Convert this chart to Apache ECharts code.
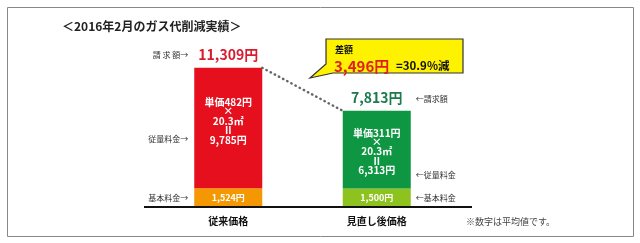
<!DOCTYPE html>
<html><head><meta charset="utf-8">
<script src="https://cdn.jsdelivr.net/npm/echarts@6/dist/echarts.min.js"></script>
<style>html,body{margin:0;padding:0;background:#fff}#c{width:640px;height:243px}</style>
</head><body><div id="c"></div>
<script>
const categories = ['従来価格', '見直し後価格'];
const baseFee = [1524, 1500];
const usageFee = [9785, 6313];
const totalBill = [11309, 7813];
const unitPrice = [482, 311];
const volume = [20.3, 20.3];
const diffAmount = 3496;
const diffRate = 30.9;
const titleText = '＜2016年2月のガス代削減実績＞';
const noteText = '※数字は平均値です。';

const FONT = '"Noto Sans CJK JP", sans-serif';
const fmt = v => String(v).replace(/\B(?=(\d{3})+(?!\d))/g, ',');
const baseColors = ['#f39800', '#8dc21f'];
const usageColors = ['#e60f1e', '#0e9642'];
const totalColors = ['#d81c2e', '#1d7a4c'];
const usageOffset = [[0, -7], [0, 2]];
const BW = 68;

const chart = echarts.init(document.getElementById('c'), null, {renderer: 'canvas'});
chart.setOption({
  animation: false,
  grid: {left: 154, top: 10, width: 297, height: 197},
  xAxis: {type: 'category', data: categories, axisLine: {show: false}, axisTick: {show: false},
    axisLabel: {margin: 9, fontSize: 10, fontWeight: 'bold', color: '#111', fontFamily: FONT}},
  yAxis: {type: 'value', min: 0, max: 16000, show: false, splitLine: {show: false}},
  series: [
    {type: 'bar', stack: 'a', barWidth: BW, barGap: '-100%',
      data: baseFee.map((v, i) => ({value: v, itemStyle: {color: baseColors[i]}})),
      label: {show: true, position: 'inside', color: '#fff', fontSize: 9, fontWeight: 'bold', fontFamily: FONT,
        formatter: p => fmt(p.value) + '円'}},
    {type: 'bar', stack: 'a', barWidth: BW, barGap: '-100%',
      data: usageFee.map((v, i) => ({value: v, itemStyle: {color: usageColors[i]}, label: {offset: usageOffset[i]}})),
      label: {show: true, position: 'inside', color: '#fff', fontSize: 10, fontWeight: 'bold', lineHeight: 9.4, fontFamily: FONT,
        formatter: p => '単価' + unitPrice[p.dataIndex] + '円\n×\n' + volume[p.dataIndex] + '㎡\nII\n' + fmt(p.value) + '円'}},
    {type: 'bar', barWidth: BW, barGap: '-100%', z: 1,
      data: totalBill.map((v, i) => ({value: v, label: {color: totalColors[i]}})),
      itemStyle: {color: 'rgba(0,0,0,0)'},
      label: {show: true, position: 'top', distance: 6, fontSize: 14, fontWeight: 'bold', fontFamily: FONT,
        formatter: p => fmt(p.value) + '円'}}
  ]
});

function px(i, v) { return chart.convertToPixel({gridIndex: 0}, [i, v]); }
const t0 = px(0, totalBill[0]), t1 = px(1, totalBill[1]);
const base = px(0, 0)[1];
const b0 = px(0, baseFee[0] / 2)[1], b1 = px(1, baseFee[1] / 2)[1];
const u0 = px(0, baseFee[0] + usageFee[0] / 2)[1], u1 = px(1, baseFee[1] + usageFee[1] / 2)[1];
const half = BW / 2;

function txt(text, x, y, size, color, align, weight) {
  return {type: 'text', silent: true, z: 10,
    style: {text: text, x: x, y: y, fill: color, fontSize: size, fontWeight: weight || 'normal', fontFamily: FONT,
      textAlign: align, align: align, textVerticalAlign: 'middle', verticalAlign: 'middle'}};
}

const lx = t0[0] - half - 6, rx = t1[0] + half + 5;
chart.setOption({graphic: [
  {type: 'rect', shape: {x: 7.5, y: 7.5, width: 626, height: 229}, style: {fill: 'none', stroke: '#888', lineWidth: 1}},
  txt(titleText, 62, 26, 12, '#222', 'left', 'bold'),
  {type: 'line', z: 5, shape: {x1: 144, y1: base, x2: 472, y2: base}, style: {stroke: '#111', lineWidth: 2}},
  {type: 'line', z: 5, shape: {x1: t0[0] + half, y1: t0[1], x2: t1[0] - half, y2: t1[1]},
    style: {stroke: '#666', lineWidth: 2.4, lineDash: [0.5, 4.2], lineCap: 'round'}},
  txt('請 求 額→', lx, t0[1] - 13, 8, '#333', 'right'),
  txt('従量料金→', lx, u0 + usageOffset[0][1] + 18, 8, '#333', 'right'),
  txt('基本料金→', lx, b0, 8, '#333', 'right'),
  txt('←請求額', rx, t1[1] - 12, 8, '#333', 'left'),
  txt('←従量料金', rx, u1 + 25, 8, '#333', 'left'),
  txt('←基本料金', rx, b1, 8, '#333', 'left'),
  {type: 'polygon', z: 6, shape: {points: [[326, 39], [463, 39], [463, 73], [333, 73], [310, 78], [326, 64]]},
    style: {fill: '#fff200', stroke: '#333', lineWidth: 1.2}},
  txt('差額', 335, 50, 9, '#111', 'left', 'bold'),
  txt(fmt(diffAmount) + '円', 334, 66, 15, '#e0201f', 'left', 'bold'),
  txt('=' + diffRate + '%減', 396, 66, 11.5, '#111', 'left', 'bold'),
  txt(noteText, 466, 222, 9, '#444', 'left')
]});
</script>
</body></html>
